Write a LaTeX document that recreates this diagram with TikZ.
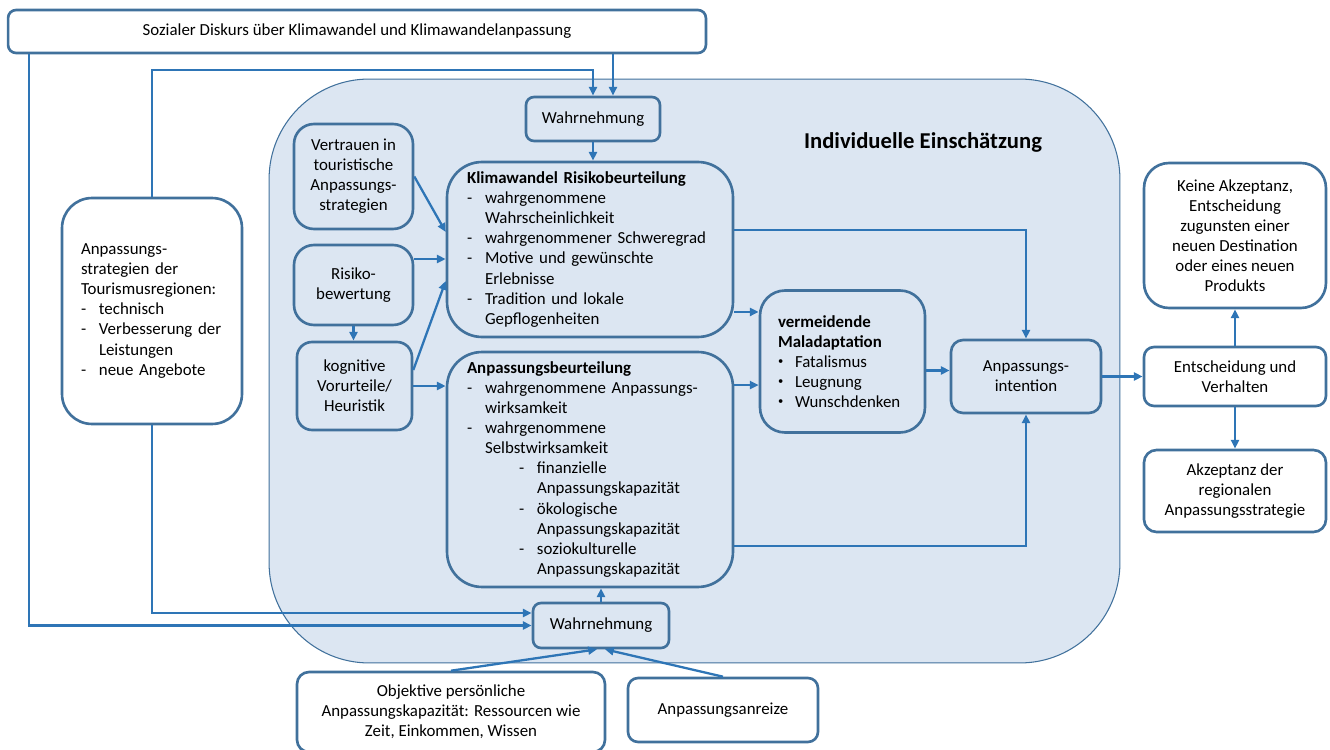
\documentclass[tikz,border=0pt]{standalone}
\usepackage{fontspec}
\setmainfont{Carlito}
\usetikzlibrary{arrows.meta}
\definecolor{boxline}{RGB}{65,113,156}
\definecolor{arrowblue}{RGB}{46,117,182}
\definecolor{regionfill}{RGB}{220,230,242}
\newcommand{\dashitem}{\makebox[0.36cm][l]{-}}
\newcommand{\dashindent}{\hspace*{0.36cm}}
\newcommand{\subdash}{\hspace*{1.04cm}\makebox[0.36cm][l]{-}}
\newcommand{\subindent}{\hspace*{1.4cm}}
\newcommand{\bulletitem}{\makebox[0.34cm][l]{\raisebox{0.3ex}{\fontsize{6}{6}\selectfont\textbullet}}}
\begin{document}
\begin{tikzpicture}[x=0.02cm,y=-0.02cm,
  font=\fontsize{9.6}{11.4}\selectfont,
  box/.style={draw=boxline,line width=1.5pt,rectangle,inner sep=0pt,align=center},
  inbox/.style={box,fill=regionfill},
  outbox/.style={box,fill=white},
  leftbox/.style={align=left},
  arr/.style={draw=arrowblue,line width=1.3pt,-{Triangle[length=5pt,width=4.5pt]}}]
  \useasboundingbox (0,0) rectangle (1330,750);
  \node (region) at (694.5,371) [draw=boxline,line width=0.6pt,fill=regionfill,rounded corners=2cm,minimum width=17.02cm,minimum height=11.68cm] {};
  \node (title) at (923,142) [font=\fontsize{12.9}{15}\selectfont\bfseries] {Individuelle Einschätzung};
  \node (discourse) at (357,31.5) [outbox,rounded corners=0.16cm,minimum width=13.96cm,minimum height=0.86cm] {Sozialer Diskurs über Klimawandel und Klimawandelanpassung};
  \node (wahrTop) at (593,119) [inbox,rounded corners=0.16cm,minimum width=2.68cm,minimum height=0.88cm] {Wahrnehmung};
  \node (vertrauen) at (353.5,176.5) [inbox,rounded corners=0.4cm,minimum width=2.38cm,minimum height=2.1cm] {Vertrauen in\\touristische\\Anpassungs-\\strategien};
  \node (risiko) at (353.5,285) [inbox,rounded corners=0.4cm,minimum width=2.38cm,minimum height=1.6cm] {Risiko-\\bewertung};
  \node (kognitiv) at (354.5,386) [inbox,rounded corners=0.3cm,minimum width=2.3cm,minimum height=1.76cm] {kognitive\\Vorurteile/\\Heuristik};
  \node (klima) at (590,249.5) [inbox,leftbox,rounded corners=0.7cm,minimum width=5.72cm,minimum height=3.5cm,inner xsep=0.4cm,text width=4.92cm] {\textbf{Klimawandel Risikobeurteilung}\\
    \dashitem wahrgenommene\\ \dashindent Wahrscheinlichkeit\\
    \dashitem wahrgenommener Schweregrad\\
    \dashitem Motive und gewünschte\\ \dashindent Erlebnisse\\
    \dashitem Tradition und lokale\\ \dashindent Gepflogenheiten};
  \node (anpass) at (590,469.5) [inbox,leftbox,rounded corners=0.7cm,minimum width=5.72cm,minimum height=4.7cm,inner xsep=0.4cm,text width=4.92cm] {\textbf{Anpassungsbeurteilung}\\
    \dashitem wahrgenommene Anpassungs-\\ \dashindent wirksamkeit\\
    \dashitem wahrgenommene\\ \dashindent Selbstwirksamkeit\\
    \subdash finanzielle\\ \subindent Anpassungskapazität\\
    \subdash ökologische\\ \subindent Anpassungskapazität\\
    \subdash soziokulturelle\\ \subindent Anpassungskapazität};
  \node (malad) at (842.5,361.5) [inbox,leftbox,rounded corners=0.5cm,minimum width=3.3cm,minimum height=2.84cm,inner xsep=0.36cm,text width=2.58cm] {\textbf{vermeidende}\\ \textbf{Maladaptation}\\
    \bulletitem Fatalismus\\ \bulletitem Leugnung\\ \bulletitem Wunschdenken};
  \node (intention) at (1026,376.5) [inbox,rounded corners=0.24cm,minimum width=3cm,minimum height=1.46cm] {Anpassungs-\\intention};
  \node (strat) at (152,311) [outbox,leftbox,rounded corners=0.6cm,minimum width=3.6cm,minimum height=4.52cm,inner xsep=0.38cm,text width=2.84cm] {Anpassungs-\\strategien der\\Tourismusregionen:\\
    \dashitem technisch\\ \dashitem Verbesserung der\\ \dashindent Leistungen\\ \dashitem neue Angebote};
  \node (wahrBot) at (601,625.5) [inbox,rounded corners=0.16cm,minimum width=2.72cm,minimum height=0.9cm] {Wahrnehmung};
  \node (objektiv) at (451,712) [outbox,rounded corners=0.24cm,minimum width=6.16cm,minimum height=1.6cm] {Objektive persönliche\\Anpassungskapazität: Ressourcen wie\\Zeit, Einkommen, Wissen};
  \node (anreize) at (723,710) [outbox,rounded corners=0.2cm,minimum width=3.8cm,minimum height=1.28cm] {Anpassungsanreize};
  \node (keine) at (1235,235.5) [outbox,rounded corners=0.5cm,minimum width=3.64cm,minimum height=2.9cm] {Keine Akzeptanz,\\Entscheidung\\zugunsten einer\\neuen Destination\\oder eines neuen\\Produkts};
  \node (decision) at (1235,376.5) [outbox,rounded corners=0.2cm,minimum width=3.64cm,minimum height=1.18cm] {Entscheidung und\\Verhalten};
  \node (akzeptanz) at (1235,491) [outbox,rounded corners=0.25cm,minimum width=3.64cm,minimum height=1.64cm] {Akzeptanz der\\regionalen\\Anpassungsstrategie};
  \draw [arr] ([xshift=0.44cm]discourse.south west) |- (wahrBot.west);
  \draw [arr] (strat.south) |- ([yshift=0.25cm]wahrBot.west);
  \draw [arr] (strat.north) |- ([yshift=0.52cm]wahrTop.north) -- (wahrTop.north);
  \draw [arr] ([xshift=0.4cm]wahrTop.north |- discourse.south) -- ([xshift=0.4cm]wahrTop.north);
  \draw [arr] (wahrTop.south) -- (wahrTop.south |- klima.north);
  \draw [arr] (vertrauen.east) -- ([yshift=0.35cm]klima.west);
  \draw [arr] ([yshift=0.52cm]risiko.east) -- ([yshift=0.52cm]risiko.east -| klima.west);
  \draw [arr] ([yshift=0.32cm]kognitiv.east) -- ([yshift=-0.63cm]klima.west);
  \draw [arr] (risiko.south) -- (risiko.south |- kognitiv.north);
  \draw [arr] (kognitiv.east) -- (kognitiv.east -| anpass.west);
  \draw [arr] ([yshift=0.39cm]klima.east) -| (intention.north);
  \draw [arr] ([yshift=-1.25cm]klima.east) -- ([yshift=-1.25cm]klima.east -| malad.west);
  \draw [arr] ([yshift=1.69cm]anpass.east) -- ([yshift=1.69cm]anpass.east -| malad.west);
  \draw [arr] ([yshift=-0.18cm]malad.east) -- ([yshift=-0.18cm]malad.east -| intention.west);
  \draw [arr] ([yshift=-1.53cm]anpass.east) -| (intention.south);
  \draw [arr] (intention.east) -- (intention.east -| decision.west);
  \draw [arr] (decision.north) -- (keine.south);
  \draw [arr] (decision.south) -- (akzeptanz.north);
  \draw [arr] (wahrBot.north) -- (wahrBot.north |- anpass.south);
  \draw [arr] (objektiv.north) -- ([xshift=-0.08cm]wahrBot.south);
  \draw [arr] (anreize.north) -- ([xshift=0.08cm]wahrBot.south);
\end{tikzpicture}
\end{document}
